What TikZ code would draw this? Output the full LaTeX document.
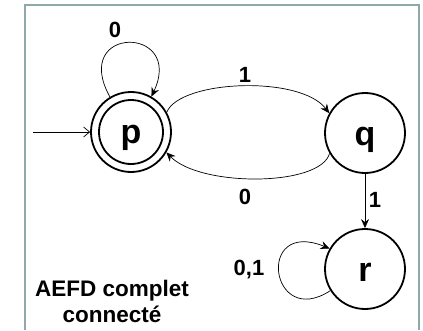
\documentclass[tikz,border=0pt]{standalone}
\usepackage{fontspec}
\setmainfont{Liberation Sans}
\usetikzlibrary{arrows.meta}
\definecolor{framecol}{HTML}{8FA9AA}
\begin{document}
\begin{tikzpicture}[x=1pt,y=1pt,
  state/.style={circle,draw=black,line width=1.8pt,minimum size=80pt,inner sep=0pt,text height=24pt,text depth=0pt,font=\fontsize{34}{34}\selectfont\bfseries},
  edge/.style={line width=0.7pt,-{Stealth[length=9pt,width=8pt,inset=3pt]}},
  lbl/.style={font=\fontsize{22}{22}\selectfont\bfseries,inner sep=1pt}]
\useasboundingbox (0,0) rectangle (423,330);
\draw[framecol,line width=2.5pt] (25,0) -- (25,325) -- (419,325) -- (419,0);
\node[state] (p) at (131,198) {p};
\draw[line width=1.8pt] (p.center) circle[radius=32pt];
\node[state] (q) at (365,197) {q};
\node[state] (r) at (365,61) {r};
\coordinate (start) at (33,198);
\draw[line width=0.7pt,-{Straight Barb[length=6pt,width=10pt]}] (start) -- (p.west);
\draw[edge] (p.121) .. controls (70,305) and (185,305) .. (p.60);
\node[lbl] (l0) at (115,300) {0};
\draw[edge] (p.29) .. controls (180,250) and (300,255) .. (q.151);
\node[lbl] (l1) at (245,255) {1};
\draw[edge] (q.210) .. controls (320,143) and (200,143) .. (p.330);
\node[lbl] (l2) at (245,133) {0};
\draw[edge] (q.south) -- (r.north);
\node[lbl] (l3) at (375,130) {1};
\draw[edge] (r.212) .. controls (270,0) and (255,112) .. (r.150);
\node[lbl] (l4) at (249,60) {0,1};
\node[align=center,font=\fontsize{22.5}{26}\selectfont\bfseries] (t) at (112,29) {AEFD complet\\connecté};
\end{tikzpicture}
\end{document}
